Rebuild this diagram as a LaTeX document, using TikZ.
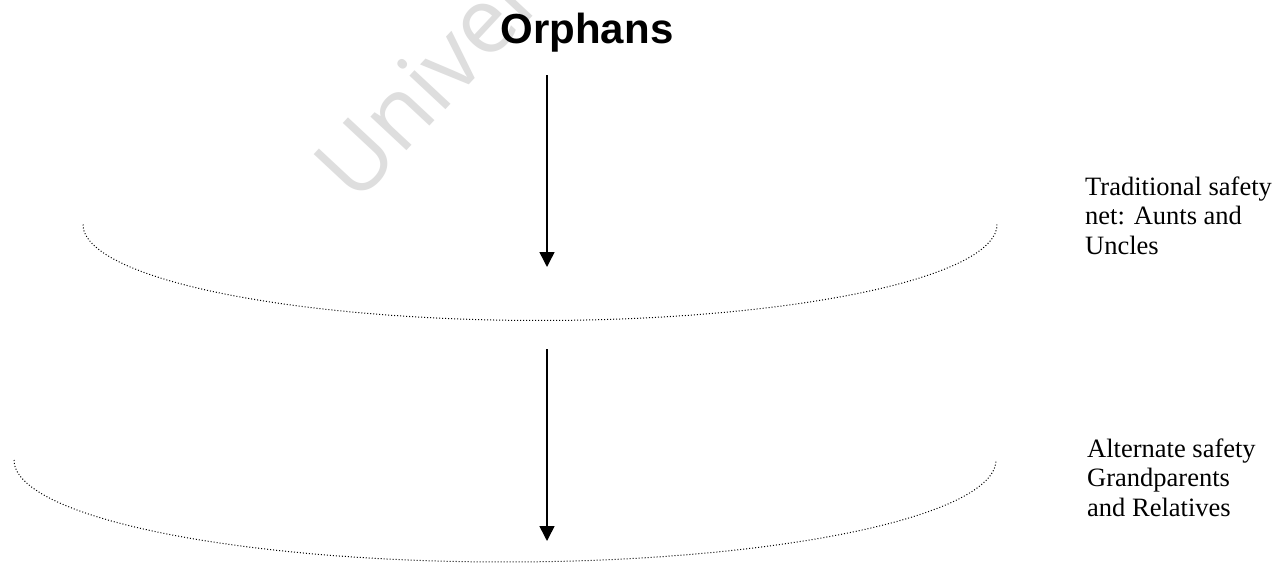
\documentclass[tikz,border=0pt]{standalone}
\usepackage{fontspec}
\setmainfont{Liberation Serif}
\newfontfamily\arialfont{Liberation Sans}
\newfontfamily\wmfont{Open Sans}
\usetikzlibrary{arrows.meta}
\tikzset{
  netcurve/.style={line width=1pt, dash pattern=on 1pt off 2pt, black},
  flowarrow/.style={line width=1.5pt, -{Triangle[width=15pt,length=15pt]}},
  sidelabel/.style={anchor=north west, align=left, inner sep=0pt, font=\fontsize{26.5}{29.5}\selectfont},
  titlelabel/.style={anchor=base, inner sep=0pt, font=\arialfont\bfseries\fontsize{42}{50}\selectfont},
  watermark/.style={anchor=base west, inner sep=0pt, text=black!13, rotate=47, font=\wmfont\fontsize{92}{92}\selectfont}
}
\begin{document}
\begin{tikzpicture}[x=1pt,y=-1pt]
\useasboundingbox (0,0) rectangle (1282,565);
\fill[white] (0,0) rectangle (1282,565);
\begin{scope}
\clip (0,0) rectangle (1282,565);
\node[watermark] (wm) at (356,206) {University};
\end{scope}
% title
\node[titlelabel] (orphans) at (587,43) {Orphans};
% arrows
\coordinate (a1s) at (547,75);
\coordinate (a1e) at (547,267);
\coordinate (a2s) at (547,349);
\coordinate (a2e) at (547,541);
\draw[flowarrow] (a1s) -- (a1e);
\draw[flowarrow] (a2s) -- (a2e);
% dotted safety nets
\draw[netcurve] plot[domain=180:360, samples=160] ({540+457*cos(\x)}, {224.5-96*sin(\x)});
\draw[netcurve] plot[domain=180:360, samples=160] ({505+491*cos(\x)}, {460-102*sin(\x)});
% labels
\node[sidelabel] (trad) at (1085,176.5) {Traditional safety\\net: Aunts and\\Uncles};
\node[sidelabel] (alt) at (1087,438.5) {Alternate safety\\Grandparents\\and Relatives};
\end{tikzpicture}
\end{document}
